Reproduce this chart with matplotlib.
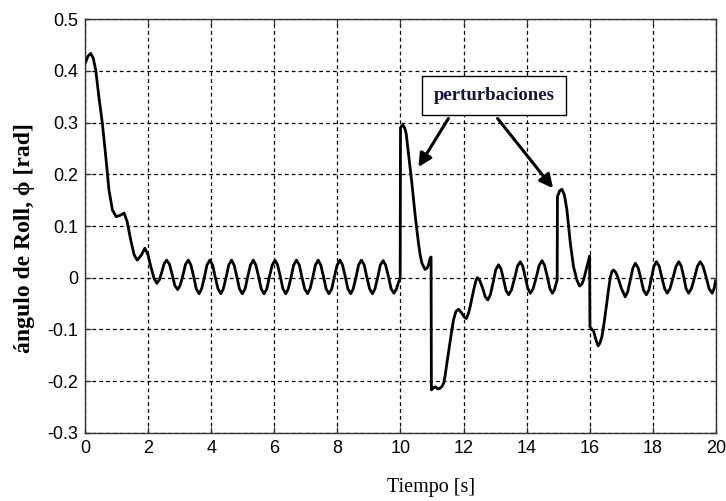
import numpy as np
import matplotlib
matplotlib.use('Agg')
import matplotlib.pyplot as plt

# ── Data (time in s, roll angle in rad) ──────────────────────────────────────

# initial transient
t_start = [0.00, 0.08, 0.17, 0.25, 0.33, 0.43, 0.54, 0.65, 0.75, 0.86, 0.98, 1.12,
           1.23, 1.33, 1.44, 1.55, 1.65, 1.78, 1.89, 1.99, 2.08, 2.18, 2.27]
phi_start = [0.415, 0.428, 0.434, 0.425, 0.402, 0.350, 0.299, 0.234, 0.170, 0.131, 0.118, 0.121,
             0.125, 0.108, 0.073, 0.044, 0.034, 0.044, 0.057, 0.044, 0.021, -0.001, -0.011]

# steady oscillation up to the first disturbance
t_osc1 = [2.35, 2.43, 2.50, 2.58, 2.67, 2.76, 2.84, 2.93, 3.01, 3.10, 3.18, 3.27,
          3.35, 3.44, 3.52, 3.61, 3.69, 3.78, 3.86, 3.95, 4.04, 4.12, 4.21, 4.30,
          4.38, 4.47, 4.55, 4.64, 4.72, 4.81, 4.89, 4.98, 5.07, 5.15, 5.24, 5.33,
          5.41, 5.50, 5.58, 5.67, 5.76, 5.84, 5.93, 6.02, 6.10, 6.19, 6.27, 6.36,
          6.44, 6.53, 6.61, 6.70, 6.79, 6.87, 6.96, 7.05, 7.13, 7.22, 7.30, 7.39,
          7.47, 7.56, 7.64, 7.73, 7.82, 7.90, 7.99, 8.08, 8.16, 8.25, 8.33, 8.42,
          8.50, 8.59, 8.67, 8.76, 8.85, 8.93, 9.02, 9.11, 9.19, 9.28, 9.36, 9.45,
          9.53, 9.62, 9.70, 9.79, 9.87, 9.93, 9.99]
phi_osc1 = [-0.004, 0.0115, 0.027, 0.034, 0.026, 0.0055, -0.015, -0.023, -0.015, 0.0055, 0.026, 0.034,
            0.0245, 0.0015, -0.0215, -0.031, -0.0215, 0.0015, 0.0245, 0.034, 0.0245, 0.0015, -0.0215, -0.031,
            -0.0215, 0.0015, 0.0245, 0.034, 0.0245, 0.0015, -0.0215, -0.031, -0.0215, 0.0015, 0.0245, 0.034,
            0.0245, 0.0015, -0.0215, -0.031, -0.0215, 0.0015, 0.0245, 0.034, 0.0245, 0.0015, -0.0215, -0.031,
            -0.0215, 0.0015, 0.0245, 0.034, 0.0245, 0.0015, -0.0215, -0.031, -0.0215, 0.0015, 0.0245, 0.034,
            0.0245, 0.0015, -0.0215, -0.031, -0.0215, 0.0015, 0.0245, 0.034, 0.0245, 0.0015, -0.0215, -0.031,
            -0.0215, 0.0015, 0.0245, 0.034, 0.0245, 0.0015, -0.0215, -0.031, -0.0215, 0.0015, 0.0245, 0.033,
            0.024, 0.0015, -0.021, -0.030, -0.022, -0.010, -0.001]

# first disturbance (t = 10 s) and recovery
t_dist1 = [10.00, 10.04, 10.08, 10.13, 10.18, 10.25, 10.36, 10.47, 10.57, 10.63, 10.68, 10.78,
           10.85, 10.89, 10.94, 10.97, 10.98, 11.05, 11.10, 11.18, 11.25, 11.32, 11.37, 11.42,
           11.47, 11.58, 11.68, 11.76, 11.84, 11.95, 12.02, 12.09, 12.15, 12.21, 12.32, 12.40,
           12.44, 12.52, 12.61, 12.69, 12.77, 12.85, 12.94, 13.02, 13.11, 13.19, 13.27, 13.35,
           13.43, 13.52, 13.62, 13.71, 13.80, 13.88, 13.96, 14.04, 14.12, 14.21, 14.31, 14.40,
           14.49, 14.57, 14.66, 14.74, 14.82, 14.88, 14.93, 14.97]
phi_dist1 = [0.290, 0.294, 0.295, 0.290, 0.279, 0.241, 0.183, 0.118, 0.067, 0.042, 0.028, 0.016,
             0.019, 0.025, 0.038, 0.040, -0.217, -0.213, -0.211, -0.215, -0.214, -0.210, -0.204, -0.188,
             -0.166, -0.121, -0.082, -0.065, -0.061, -0.069, -0.076, -0.079, -0.070, -0.056, -0.024, -0.004,
             0.000, -0.006, -0.021, -0.037, -0.043, -0.033, -0.009, 0.015, 0.025, 0.017, -0.004, -0.025,
             -0.033, -0.024, -0.001, 0.022, 0.031, 0.022, 0.0005, -0.021, -0.030, -0.021, 0.0015, 0.024,
             0.033, 0.024, 0.0015, -0.021, -0.030, -0.024, -0.013, -0.004]

# second disturbance (t = 15 s) and recovery
t_dist2 = [14.98, 15.05, 15.12, 15.20, 15.28, 15.39, 15.49, 15.60, 15.68, 15.75, 15.81, 15.94,
           16.00, 16.01, 16.13, 16.20, 16.27, 16.33, 16.39, 16.46, 16.53, 16.60, 16.66, 16.71,
           16.76, 16.82, 16.89, 17.01, 17.13, 17.21, 17.29, 17.37, 17.45, 17.54, 17.63, 17.71,
           17.80, 17.88, 17.96, 18.04, 18.12, 18.21, 18.29, 18.38, 18.46, 18.55, 18.65, 18.74,
           18.83, 18.91, 18.99, 19.06, 19.14, 19.23, 19.33, 19.42, 19.51, 19.60, 19.70, 19.79,
           19.89, 19.95, 20.00]
phi_dist2 = [0.157, 0.168, 0.171, 0.160, 0.131, 0.066, 0.021, -0.005, -0.016, -0.013, -0.004, 0.028,
             0.042, -0.095, -0.104, -0.120, -0.132, -0.126, -0.114, -0.087, -0.056, -0.023, 0.002, 0.012,
             0.015, 0.011, 0.002, -0.021, -0.037, -0.027, -0.004, 0.018, 0.028, 0.019, -0.0025, -0.024,
             -0.033, -0.024, -0.001, 0.022, 0.031, 0.022, 0.0005, -0.021, -0.030, -0.021, 0.0005, 0.022,
             0.031, 0.022, 0.0005, -0.021, -0.030, -0.021, 0.0005, 0.022, 0.031, 0.022, 0.0005, -0.021,
             -0.030, -0.021, -0.006]

t = np.concatenate([t_start, t_osc1, t_dist1, t_dist2])
phi = np.concatenate([phi_start, phi_osc1, phi_dist1, phi_dist2])

x_ticks = [0, 2, 4, 6, 8, 10, 12, 14, 16, 18, 20]
y_ticks = [-0.3, -0.2, -0.1, 0, 0.1, 0.2, 0.3, 0.4, 0.5]
y_ticklabels = ['-0.3', '-0.2', '-0.1', '0', '0.1', '0.2', '0.3', '0.4', '0.5']

# ── Plot ──────────────────────────────────────────────────────────────────────

fig = plt.figure(figsize=(7.26, 5.01), dpi=100)
ax = fig.add_axes([0.1175, 0.1361, 0.8683, 0.8256])

ax.plot(t, phi, color='black', linewidth=2.0, solid_joinstyle='round')

ax.set_xlim(0, 20)
ax.set_ylim(-0.3, 0.5)
ax.set_xticks(x_ticks)
ax.set_yticks(y_ticks)
ax.set_yticklabels(y_ticklabels)
ax.tick_params(direction='in', length=4, width=0.9, top=True, right=True,
               labelsize=13, pad=5, color='#333333')
for lab in ax.get_xticklabels() + ax.get_yticklabels():
    lab.set_family('Liberation Sans')
ax.grid(True, color='black', linestyle=(0, (3, 2.5)), linewidth=0.9)
for sp in ax.spines.values():
    sp.set_linewidth(1.0)
    sp.set_color('#333333')

serif = ['Liberation Serif', 'DejaVu Serif']
ax.set_xlabel('Tiempo [s]', family=serif, fontsize=14.5, va='top')
ax.xaxis.set_label_coords(0.548, -0.11)
ax.set_ylabel('ángulo de Roll, ϕ [rad]', family=serif, fontsize=17, fontweight='bold')
ax.yaxis.set_label_coords(-0.08, 0.47)

ax.text(12.97, 0.352, 'perturbaciones', family=serif, fontsize=13.5, fontweight='bold',
        ha='center', va='center', color='#15153a',
        bbox=dict(boxstyle='square,pad=0.6', facecolor='white', edgecolor='black', linewidth=1))

arrow = dict(arrowstyle='-|>', color='black', lw=2.2, mutation_scale=20, shrinkA=0, shrinkB=0)
ax.annotate('', xy=(10.57, 0.214), xytext=(11.52, 0.308), arrowprops=arrow)
ax.annotate('', xy=(14.84, 0.173), xytext=(13.08, 0.308), arrowprops=arrow)

plt.savefig('out.png', dpi=100)
